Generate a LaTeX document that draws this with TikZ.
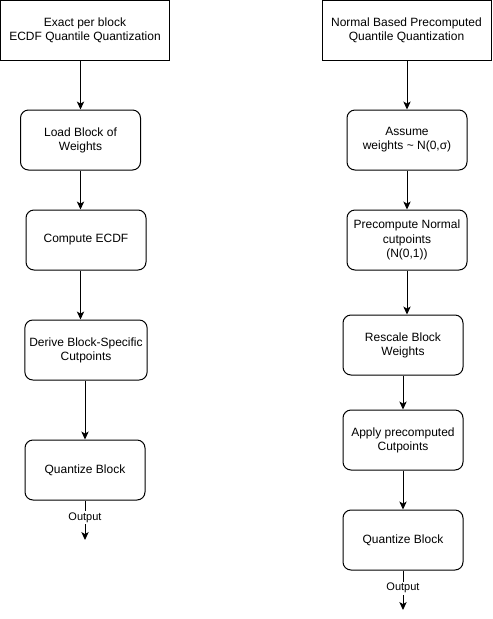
\documentclass[tikz,border=0pt]{standalone}
\usepackage{fontspec}
\setmainfont{Liberation Sans}
\usetikzlibrary{arrows.meta}
\colorlet{box edge}{black}
\colorlet{box area}{white}
\tikzset{
  titlebox/.style={draw=box edge, fill=box area, align=center, minimum width=126.75pt, minimum height=45pt, font=\fontsize{9}{10.6}\selectfont},
  stepbox/.style={draw=box edge, fill=box area, rounded corners=6pt, align=center, minimum width=90pt, minimum height=45pt, font=\fontsize{9}{10.6}\selectfont},
  flow/.style={draw=box edge, line width=0.75pt, -{Stealth[length=6pt, width=5.5pt, inset=1.6pt]}},
  outlabel/.style={fill=white, inner sep=1pt, font=\fontsize{8.25}{9}\selectfont}
}

\begin{document}
\begin{tikzpicture}[x=0.75pt, y=-0.75pt, line width=0.75pt]
    \useasboundingbox (0,0) rectangle (493,619);
    \node[titlebox] (lefttitle) at (85,30) {Exact per block\\ECDF Quantile Quantization};
    \node[stepbox] (load) at (80.5,140) {Load Block of\\Weights};
    \node[stepbox] (ecdf) at (86,240) {Compute ECDF};
    \node[stepbox] (derive) at (86,350) {Derive Block-Specific\\Cutpoints};
    \node[stepbox] (lquant) at (85,470) {Quantize Block};
    \coordinate (lout) at (85,540);

    \node[titlebox] (righttitle) at (406.5,30) {Normal Based Precomputed\\Quantile Quantization};
    \node[stepbox] (assume) at (407,140) {Assume\\weights \textasciitilde{} N(0,σ)};
    \node[stepbox] (precomp) at (407,240) {Precompute Normal\\cutpoints\\(N(0,1))};
    \node[stepbox] (rescale) at (403,345) {Rescale Block\\Weights};
    \node[stepbox] (apply) at (403,440) {Apply precomputed\\Cutpoints};
    \node[stepbox] (rquant) at (403,540) {Quantize Block};
    \coordinate (rout) at (403,610);

    \draw[flow] (load.north |- lefttitle.south) -- (load.north);
    \draw[flow] (load.south) -- (load.south |- ecdf.north);
    \draw[flow] (ecdf.south -| load) -- (derive.north -| load);
    \draw[flow] (derive.south -| lquant) -- (lquant.north);
    \draw[flow] (lquant.south) -- node[outlabel, pos=0.43] {Output} (lout);

    \draw[flow] (assume.north |- righttitle.south) -- (assume.north);
    \draw[flow] (assume.south) -- (precomp.north);
    \draw[flow] (precomp.south) -- (precomp.south |- rescale.north);
    \draw[flow] (rescale.south) -- (apply.north);
    \draw[flow] (apply.south) -- (rquant.north);
    \draw[flow] (rquant.south) -- node[outlabel, pos=0.45] {Output} (rout);
  \end{tikzpicture}
\end{document}
